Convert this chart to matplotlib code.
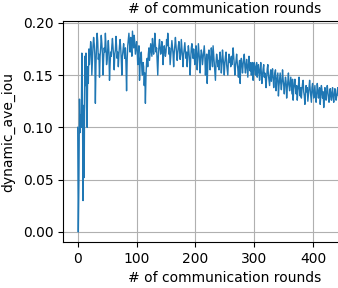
import matplotlib
matplotlib.use("Agg")
import matplotlib.pyplot as plt

# dynamic average IoU per communication round
ave_iou = [
    0.100, 0.000, 0.048, 0.127, 0.095, 0.112, 0.100, 0.171, 0.128, 0.030,
    0.121, 0.052, 0.168, 0.140, 0.171, 0.120, 0.100, 0.158, 0.142, 0.175,
    0.160, 0.172, 0.182, 0.176, 0.150, 0.165, 0.178, 0.186, 0.180, 0.170,
    0.123, 0.160, 0.178, 0.190, 0.182, 0.165, 0.170, 0.148, 0.168, 0.176,
    0.188, 0.180, 0.170, 0.150, 0.166, 0.176, 0.172, 0.190, 0.178, 0.160,
    0.165, 0.175, 0.183, 0.172, 0.145, 0.160, 0.172, 0.168, 0.178, 0.185,
    0.176, 0.168, 0.155, 0.170, 0.174, 0.187, 0.178, 0.166, 0.172, 0.158,
    0.170, 0.178, 0.184, 0.176, 0.165, 0.150, 0.168, 0.174, 0.180, 0.172,
    0.166, 0.176, 0.160, 0.135, 0.165, 0.178, 0.184, 0.190, 0.180, 0.172,
    0.186, 0.178, 0.168, 0.192, 0.184, 0.176, 0.188, 0.180, 0.170, 0.176,
    0.182, 0.174, 0.160, 0.170, 0.178, 0.145, 0.160, 0.168, 0.172, 0.155,
    0.150, 0.162, 0.158, 0.140, 0.152, 0.123, 0.150, 0.162, 0.166, 0.158,
    0.170, 0.176, 0.164, 0.172, 0.180, 0.174, 0.168, 0.185, 0.176, 0.170,
    0.178, 0.190, 0.180, 0.172, 0.176, 0.164, 0.150, 0.168, 0.178, 0.184,
    0.176, 0.170, 0.174, 0.182, 0.176, 0.160, 0.170, 0.178, 0.174, 0.168,
    0.172, 0.184, 0.178, 0.190, 0.180, 0.170, 0.176, 0.160, 0.168, 0.176,
    0.183, 0.176, 0.170, 0.158, 0.172, 0.178, 0.186, 0.178, 0.170, 0.164,
    0.172, 0.178, 0.182, 0.174, 0.165, 0.170, 0.184, 0.176, 0.168, 0.158,
    0.170, 0.176, 0.181, 0.172, 0.166, 0.172, 0.158, 0.170, 0.178, 0.172,
    0.164, 0.150, 0.166, 0.176, 0.180, 0.172, 0.166, 0.175, 0.168, 0.160,
    0.168, 0.178, 0.170, 0.155, 0.166, 0.180, 0.172, 0.164, 0.152, 0.168,
    0.174, 0.170, 0.160, 0.166, 0.172, 0.178, 0.168, 0.150, 0.162, 0.170,
    0.142, 0.160, 0.170, 0.174, 0.166, 0.155, 0.166, 0.176, 0.168, 0.158,
    0.178, 0.170, 0.162, 0.155, 0.145, 0.162, 0.170, 0.166, 0.158, 0.164,
    0.155, 0.166, 0.172, 0.164, 0.152, 0.160, 0.174, 0.166, 0.160, 0.150,
    0.162, 0.168, 0.172, 0.160, 0.155, 0.150, 0.164, 0.170, 0.162, 0.166,
    0.158, 0.168, 0.160, 0.166, 0.176, 0.168, 0.160, 0.150, 0.158, 0.164,
    0.170, 0.162, 0.156, 0.148, 0.158, 0.164, 0.142, 0.160, 0.166, 0.160,
    0.152, 0.160, 0.166, 0.170, 0.158, 0.152, 0.160, 0.165, 0.156, 0.148,
    0.160, 0.168, 0.158, 0.154, 0.162, 0.150, 0.158, 0.162, 0.145, 0.158,
    0.162, 0.156, 0.150, 0.158, 0.162, 0.148, 0.155, 0.160, 0.152, 0.145,
    0.155, 0.162, 0.152, 0.142, 0.150, 0.156, 0.160, 0.148, 0.152, 0.146,
    0.138, 0.148, 0.156, 0.160, 0.150, 0.145, 0.140, 0.150, 0.155, 0.144,
    0.150, 0.156, 0.148, 0.138, 0.146, 0.152, 0.155, 0.135, 0.144, 0.148,
    0.152, 0.130, 0.140, 0.146, 0.152, 0.142, 0.136, 0.144, 0.155, 0.146,
    0.140, 0.132, 0.142, 0.148, 0.144, 0.128, 0.138, 0.144, 0.152, 0.140,
    0.135, 0.142, 0.148, 0.140, 0.132, 0.146, 0.126, 0.136, 0.142, 0.146,
    0.138, 0.132, 0.140, 0.126, 0.134, 0.140, 0.148, 0.136, 0.130, 0.138,
    0.128, 0.136, 0.142, 0.145, 0.134, 0.130, 0.122, 0.132, 0.140, 0.134,
    0.138, 0.125, 0.132, 0.138, 0.145, 0.136, 0.130, 0.124, 0.138, 0.142,
    0.134, 0.128, 0.134, 0.140, 0.130, 0.124, 0.132, 0.142, 0.136, 0.128,
    0.134, 0.138, 0.122, 0.130, 0.140, 0.136, 0.128, 0.134, 0.119, 0.130,
    0.138, 0.132, 0.126, 0.134, 0.140, 0.134, 0.128, 0.124, 0.132, 0.137,
    0.130, 0.126, 0.134, 0.138, 0.128, 0.124, 0.132, 0.137, 0.131, 0.126,
    0.130, 0.135, 0.138, 0.130, 0.134,
]
rounds = list(range(len(ave_iou)))

fig = plt.figure(figsize=(3.38, 2.88), dpi=100)
# axes runs past the right edge of the figure (cropped original)
ax = fig.add_axes([0.1864, 0.1597, 0.956, 0.767])
ax.plot(rounds, ave_iou, color='C0', lw=1)
ax.set_xlim(-25, 524)
ax.set_ylim(-0.0096, 0.2016)
ax.set_xticks([0, 100, 200, 300, 400])
ax.set_yticks([0.0, 0.05, 0.10, 0.15, 0.20])
ax.yaxis.set_major_formatter(matplotlib.ticker.FormatStrFormatter('%.2f'))
ax.grid(True)
ax.spines['right'].set_visible(False)
ax.set_title('# of communication rounds', fontsize=10)
ax.set_xlabel('# of communication rounds', fontsize=10)
ax.set_ylabel('dynamic_ave_iou', fontsize=10, labelpad=5)

fig.savefig('out.png', dpi=100)
